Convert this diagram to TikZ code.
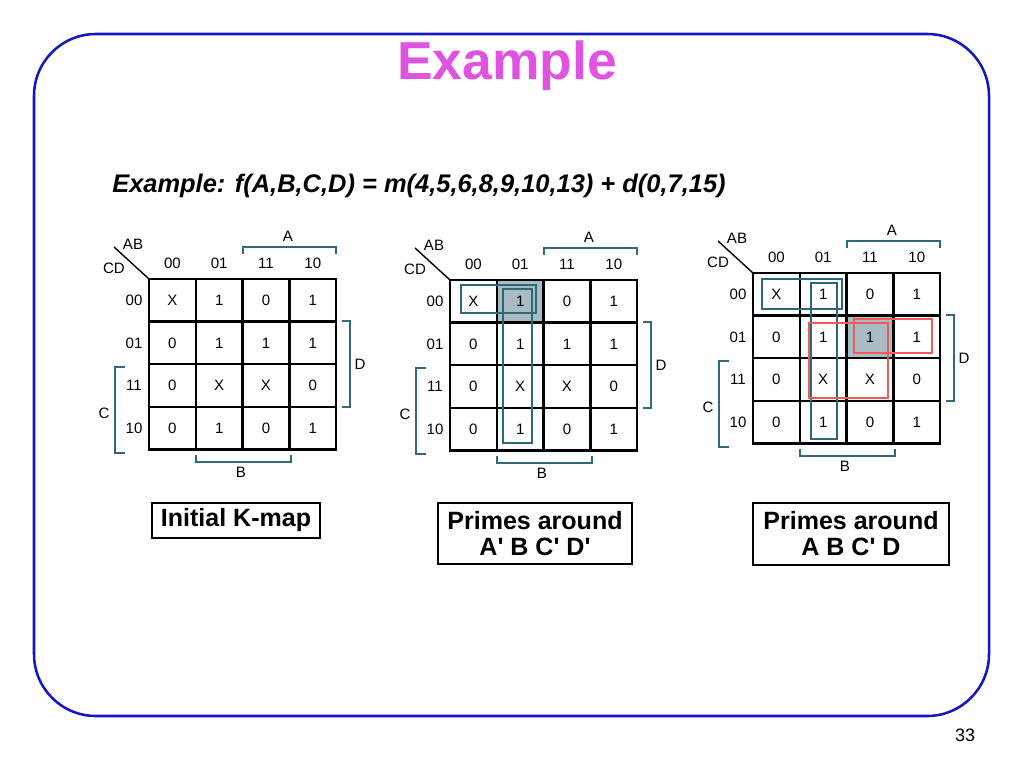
\documentclass[tikz,border=0pt]{standalone}
\usepackage{fontspec}
\setmainfont{Liberation Sans}
\usetikzlibrary{positioning,calc}
\definecolor{frameC}{HTML}{1414C8}
\definecolor{titleC}{HTML}{E052E0}
\definecolor{brkC}{HTML}{30697A}
\definecolor{grpC}{HTML}{2B6878}
\definecolor{shadeC}{HTML}{A9BCC4}
\definecolor{redC}{HTML}{F05A5A}

\begin{document}
\begin{tikzpicture}[
  x=0.025cm, y=-0.025cm,
  every node/.style={font=\fontsize{10.7}{12}\selectfont, inner sep=0pt},
  cellval/.style={anchor=center},
  gridline/.style={line width=1.6pt, black, line cap=rect},
  brk/.style={draw=brkC, line width=1.4pt},
  grp/.style={draw=#1, line width=2pt},
  capbox/.style={draw, line width=0.8pt, align=center,
                 font=\bfseries\fontsize{17.8}{18.5}\selectfont},
]
\useasboundingbox (0,0) rectangle (1024,768);

% ── Slide frame and titles ──
\draw[frameC, line width=1.8pt, rounded corners=44pt] (34,34) rectangle (989,716);
\node[anchor=base, text=titleC, font=\bfseries\fontsize{38}{40}\selectfont] (title) at (507,80) {Example};
\node[anchor=base west, font=\bfseries\itshape\fontsize{18.1}{20}\selectfont] (func) at (112,192)
  {Example: f(A,B,C,D) = m(4,5,6,8,9,10,13) + d(0,7,15)};
\node[font=\fontsize{12.8}{14}\selectfont] (pageno) at (965,735) {33};

% ── Shaded cells (under the grid) ──
\fill[shadeC] (450+46.8,280) rectangle (450+93.6,280+42.6);
\fill[shadeC] (753+93.6,273+42.6) rectangle (753+140.4,273+85.2);

% ── The three K-maps ──
\foreach \m/\ox/\oy in {1/149/279, 2/450/280, 3/753/273} {
\begin{scope}[shift={(\ox,\oy)}]
  \foreach \i in {0,...,4}
    \draw[gridline] (\i*46.8,0) -- (\i*46.8,170.4);
  \foreach \j in {0,...,4}
    \draw[gridline] (0,\j*42.6) -- (187.2,\j*42.6);
  % cell values
  \foreach \row [count=\j from 0] in {{X,1,0,1},{0,1,1,1},{0,X,X,0},{0,1,0,1}}
    \foreach \v [count=\i from 0] in \row
      \node[cellval] (k\m-\i\j) at ({(\i+0.5)*46.8},{(\j+0.5)*42.6}) {\v};
  % column and row codes
  \foreach \code [count=\i from 0] in {00,01,11,10} {
    \node (k\m-col\i) at ({(\i+0.5)*46.8},-15.5) {\code};
    \node (k\m-row\i) at (-15,{(\i+0.5)*42.6}) {\code};
  }
  % corner
  \coordinate (k\m-corner) at (0,0);
  \coordinate (k\m-diag) at (-35,-32);
  \draw[line width=1pt] (k\m-diag) -- (k\m-corner);
  \node (k\m-ab) at (-16,-35) {AB};
  \node (k\m-cd) at (-35,-11) {CD};
  % variable brackets
  \draw[brk] (93.6,-25) -- (93.6,-32) -- (187.2,-32) -- (187.2,-25);
  \node (k\m-A) at (139,-43) {A};
  \draw[brk] (193,42) -- (201,42) -- (201,128) -- (193,128);
  \node (k\m-D) at (211,85) {D};
  \draw[brk] (-24,88) -- (-34,88) -- (-34,174) -- (-24,174);
  \node (k\m-C) at (-45,134) {C};
  \draw[brk] (46.8,176) -- (46.8,183) -- (142,183) -- (142,176);
  \node (k\m-B) at (92,193) {B};
\end{scope}
}

% ── Prime groups: map 2 ──
\begin{scope}[shift={(450,280)}]
  \draw[grp=grpC] (11,5) rectangle (86,33);
  \draw[grp=grpC] (53,9) rectangle (82,163);
\end{scope}

% ── Prime groups: map 3 ──
\begin{scope}[shift={(753,273)}]
  \draw[grp=grpC] (9,6) rectangle (89,36);
  \draw[grp=grpC] (58,10) rectangle (84,166);
  \draw[grp=redC, line width=1.6pt] (56,50) rectangle (135,125);
  \draw[grp=redC, line width=1.6pt] (101,46) rectangle (179,80);
\end{scope}

% ── Captions ──
\node[capbox, minimum width=4.2cm, minimum height=0.875cm] (cap1) at (236,520.5) {Initial K-map};
\node[capbox, minimum width=4.85cm, minimum height=1.525cm] (cap2) at (535,533.5)
  {Primes around\\A\textquotesingle{} B C\textquotesingle{} D\textquotesingle};
\node[capbox, minimum width=4.9cm, minimum height=1.55cm] (cap3) at (851,534)
  {Primes around\\A B C\textquotesingle{} D};

\end{tikzpicture}
\end{document}
